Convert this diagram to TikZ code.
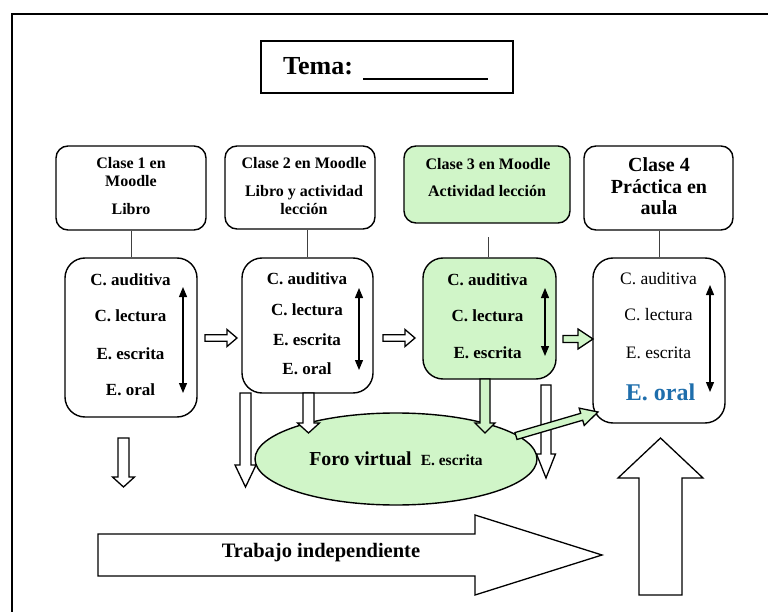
\documentclass[tikz,border=0pt]{standalone}
\usepackage{fontspec}
\setmainfont{Liberation Serif}
\usetikzlibrary{calc,arrows.meta,shapes.geometric}

\definecolor{paleGreen}{RGB}{208,245,200}
\definecolor{oralBlue}{RGB}{30,110,172}

% Hollow block arrow: #1 style, #2 tail, #3 tip, #4 shaft half-width,
% #5 head half-width, #6 head length
\newcommand\blockarrow[6]{%
  \coordinate (ba-base) at ($(#3)!#6!(#2)$);
  \path[#1] ($(#2)!#4!90:(#3)$) -- ($(ba-base)!#4!90:(#3)$)
    -- ($(ba-base)!#5!90:(#3)$) -- (#3)
    -- ($(ba-base)!#5!-90:(#3)$) -- ($(ba-base)!#4!-90:(#3)$)
    -- ($(#2)!#4!-90:(#3)$) -- cycle;}

\begin{document}
\begin{tikzpicture}[x=1pt,y=-1pt,
  hdr/.style={draw,line width=1.4pt,rounded corners=12pt,inner sep=0pt},
  lowbox/.style={draw,line width=1.4pt,rounded corners=20pt,inner sep=0pt},
  txt/.style={anchor=mid,inner sep=0pt},
  b16/.style={txt,font=\fontsize{16}{18}\selectfont\bfseries},
  b17/.style={txt,font=\fontsize{17}{19}\selectfont\bfseries},
  r17/.style={txt,font=\fontsize{17.5}{20}\selectfont},
  b20/.style={txt,font=\fontsize{20}{22}\selectfont\bfseries},
  link/.style={draw=black!75,line width=1pt},
  dbl/.style={line width=1.2pt,{Triangle[length=10pt,width=8pt]}-{Triangle[length=10pt,width=8pt]}},
  hollow/.style={draw,line width=1.3pt,fill=white,line join=miter},
  greenarrow/.style={draw,line width=1.3pt,fill=paleGreen,line join=miter}
]
\useasboundingbox (0,0) rectangle (768,612);
\clip (0,0) rectangle (768,612);

% outer frame (runs past the right and bottom edges)
\draw[line width=2.6pt] (12,14) rectangle (800,650);

% title
\node[draw,line width=1.3pt,minimum width=252pt,minimum height=52pt,inner sep=0pt] (tema) at (387,67) {};
\node[anchor=base west,inner sep=0pt,font=\fontsize{26}{28}\selectfont\bfseries] (tematxt) at (283,75)
  {Tema:\hspace{10pt}\rule[-5.3pt]{125pt}{2.4pt}};

% header boxes
\node[hdr,minimum width=150pt,minimum height=84pt] (h1) at (131,188) {};
\node[hdr,minimum width=150pt,minimum height=83pt] (h2) at (300,187.5) {};
\node[hdr,fill=paleGreen,minimum width=166pt,minimum height=77pt] (h3) at (487,184.5) {};
\node[hdr,minimum width=149pt,minimum height=84pt] (h4) at (658.5,188) {};

\node[b16] (h1a) at (131,166) {Clase 1 en};
\node[b16] (h1b) at (131,184) {Moodle};
\node[b16] (h1c) at (131,212) {Libro};
\node[b16] (h2a) at (304,166) {Clase 2 en Moodle};
\node[b16] (h2b) at (304,194) {Libro y actividad};
\node[b16] (h2c) at (304,212) {lección};
\node[b16] (h3a) at (488,167) {Clase 3 en Moodle};
\node[b16] (h3b) at (487,194) {Actividad lección};
\node[b20] (h4a) at (659,169) {Clase 4};
\node[b20] (h4b) at (659,191) {Práctica en};
\node[b20] (h4c) at (659,212) {aula};

% skill boxes
\node[lowbox,minimum width=132pt,minimum height=159pt] (l1) at (131,337.5) {};
\node[lowbox,minimum width=131pt,minimum height=135pt] (l2) at (307.5,325.5) {};
\node[lowbox,fill=paleGreen,minimum width=133pt,minimum height=121pt] (l3) at (489.5,318.5) {};
\node[lowbox,minimum width=132pt,minimum height=165pt] (l4) at (659,340.5) {};

% links header -> skill box
\draw[link] (h1.south) -- (l1.north);
\draw[link] (l2.north) -- (l2.north |- h2.south);
\coordinate (h3link) at (488,237);
\draw[link] (l3.north -| h3link) -- (h3link);
\draw[link] (l4.north) -- (l4.north |- h4.south);

% skills
\node[b17] (s1a) at (130.5,283) {C. auditiva};
\node[b17] (s1b) at (130.5,319) {C. lectura};
\node[b17] (s1c) at (130.5,357) {E. escrita};
\node[b17] (s1d) at (130.5,393) {E. oral};
\node[b17] (s2a) at (307,282) {C. auditiva};
\node[b17] (s2b) at (307,313) {C. lectura};
\node[b17] (s2c) at (307,343) {E. escrita};
\node[b17] (s2d) at (307,372) {E. oral};
\node[b17] (s3a) at (487.5,283) {C. auditiva};
\node[b17] (s3b) at (487.5,319) {C. lectura};
\node[b17] (s3c) at (487.5,356) {E. escrita};
\node[r17] (s4a) at (658.5,282) {C. auditiva};
\node[r17] (s4b) at (658.5,318) {C. lectura};
\node[r17] (s4c) at (658.5,356) {E. escrita};
\node[txt,font=\fontsize{24}{26}\selectfont\bfseries,text=oralBlue] (s4d) at (660.5,398) {E. oral};

% two-way arrows inside the skill boxes
\coordinate (v1t) at (183,287); \coordinate (v1b) at (183,393);
\coordinate (v2t) at (359,288); \coordinate (v2b) at (359,370);
\coordinate (v3t) at (545,288); \coordinate (v3b) at (545,356);
\coordinate (v4t) at (710,285); \coordinate (v4b) at (710,392);
\draw[dbl] (v1t) -- (v1b);
\draw[dbl] (v2t) -- (v2b);
\draw[dbl] (v3t) -- (v3b);
\draw[dbl] (v4t) -- (v4b);

% arrows between the skill boxes
\coordinate (a12s) at (205,338); \coordinate (a12e) at (237,338);
\coordinate (a23s) at (383,338); \coordinate (a23e) at (415,338);
\coordinate (a34s) at (563,339); \coordinate (a34e) at (593,339);
\blockarrow{hollow}{a12s}{a12e}{3.2pt}{8.5pt}{10pt}
\blockarrow{hollow}{a23s}{a23e}{3.2pt}{8.5pt}{10pt}
\blockarrow{greenarrow}{a34s}{a34e}{3.5pt}{10pt}{15pt}

% forum
\node[ellipse,draw,fill=paleGreen,line width=1.4pt,minimum width=282pt,minimum height=92pt,inner sep=0pt,
  font=\bfseries] (foro) at (396,459)
  {\raisebox{-3pt}{{\fontsize{19.8}{22}\selectfont Foro virtual}\hspace{9pt}{\fontsize{15.5}{18}\selectfont E. escrita}}};

% arrows downwards
\coordinate (d1s) at (123.5,438); \coordinate (d1e) at (123.5,487);
\coordinate (d2s) at (245.5,393); \coordinate (d2e) at (245.5,487);
\coordinate (d3s) at (308.5,393); \coordinate (d3e) at (308.5,433);
\coordinate (d4s) at (485,379);   \coordinate (d4e) at (485,433);
\coordinate (d5s) at (546,385);   \coordinate (d5e) at (546,478);
\blockarrow{hollow}{d1s}{d1e}{5.5pt}{11pt}{10pt}
\blockarrow{hollow}{d2s}{d2e}{5.5pt}{10.5pt}{22pt}
\blockarrow{hollow}{d3s}{d3e}{5.5pt}{11pt}{10pt}
\blockarrow{greenarrow}{d4s}{d4e}{5pt}{10pt}{10pt}
\blockarrow{hollow}{d5s}{d5e}{5pt}{9.5pt}{24pt}

% forum -> oral practice
\coordinate (fs) at (516,436); \coordinate (fe) at (598,412);
\blockarrow{greenarrow}{fs}{fe}{3.6pt}{9pt}{17pt}

% independent work
\coordinate (tws) at (98,555); \coordinate (twe) at (602,555);
\blockarrow{hollow}{tws}{twe}{21pt}{40pt}{127pt}
\node[txt,font=\fontsize{20.5}{23}\selectfont\bfseries] (tw) at (321,555) {Trabajo independiente};

% big arrow up to class 4
\coordinate (ups) at (660.5,595); \coordinate (upe) at (660.5,438);
\blockarrow{hollow}{ups}{upe}{21.5pt}{42.5pt}{40pt}
\end{tikzpicture}
\end{document}
